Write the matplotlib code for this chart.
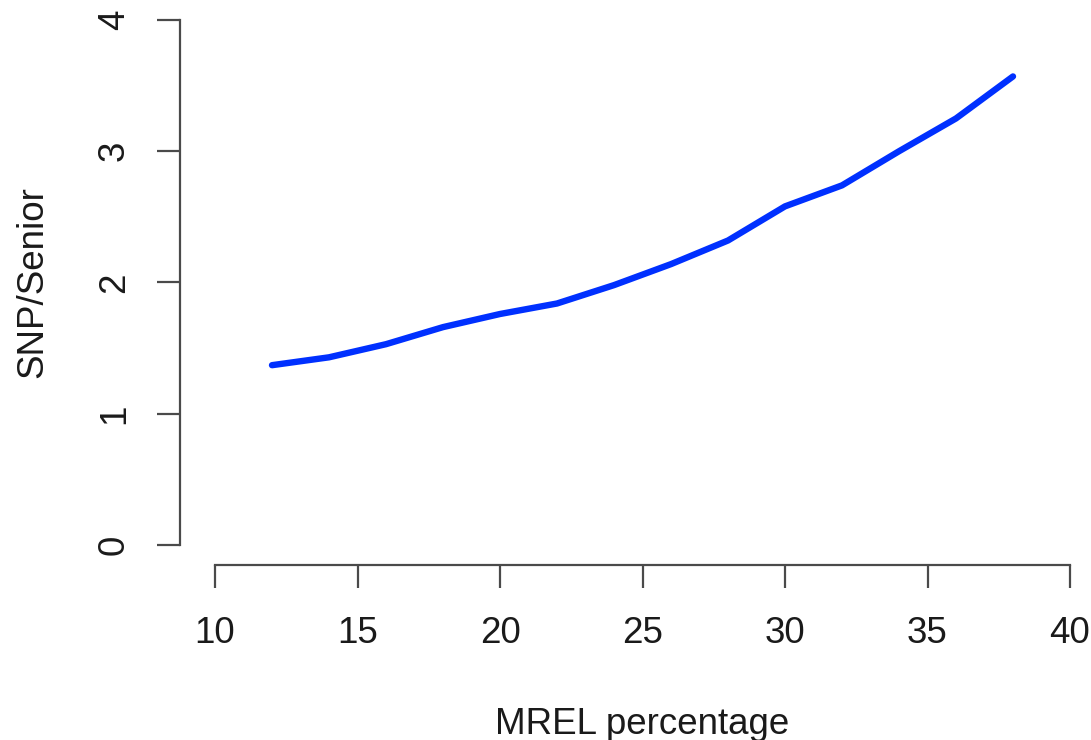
import matplotlib
matplotlib.use("Agg")
import matplotlib.pyplot as plt

# MREL percentage vs. SNP/Senior ratio
mrel_pct = [12, 14, 16, 18, 20, 22, 24, 26, 28, 30, 32, 34, 36, 38]
snp_senior = [1.37, 1.43, 1.53, 1.66, 1.76, 1.84, 1.98, 2.14, 2.32, 2.58, 2.74, 3.00, 3.25, 3.57]

x_ticks = [10, 15, 20, 25, 30, 35, 40]
y_ticks = [0, 1, 2, 3, 4]

plt.rcParams['font.family'] = ['Liberation Sans', 'DejaVu Sans']

W, H, DPI = 1091, 740, 100
fig = plt.figure(figsize=(W / DPI, H / DPI), dpi=DPI)

# plot region in pixels
xlim = (9.5, 40.5)
ylim = (-0.1, 4.1)
px_per_x = 855 / 30.0
px_per_y = 525 / 4.0
left_px = 215 - (10 - xlim[0]) * px_per_x
right_px = 1070 + (xlim[1] - 40) * px_per_x
top_px = 20 - (ylim[1] - 4) * px_per_y
bottom_px = 545 + (0 - ylim[0]) * px_per_y

ax = fig.add_axes([left_px / W, 1 - bottom_px / H,
                   (right_px - left_px) / W, (bottom_px - top_px) / H])

ax.plot(mrel_pct, snp_senior, color='#0030ff', linewidth=4.6,
        solid_capstyle='round', solid_joinstyle='round')

ax.set_xlim(*xlim)
ax.set_ylim(*ylim)
ax.set_xticks(x_ticks)
ax.set_yticks(y_ticks)
ax.set_xticklabels([str(v) for v in x_ticks])
ax.set_yticklabels([str(v) for v in y_ticks])

axis_col = '#4a4a4a'
text_col = '#1a1a1a'
for side in ('top', 'right'):
    ax.spines[side].set_visible(False)
ax.spines['left'].set_bounds(0, 4)
ax.spines['bottom'].set_bounds(10, 40)
ax.spines['left'].set_position(('outward', (left_px - 180) * 72 / DPI))
ax.spines['bottom'].set_position(('outward', (565 - bottom_px) * 72 / DPI))
for side in ('left', 'bottom'):
    ax.spines[side].set_color(axis_col)
    ax.spines[side].set_linewidth(1.6)

ax.tick_params(axis='both', direction='out', length=16.5, width=1.6,
               color=axis_col, labelcolor=text_col, labelsize=26.5)
ax.tick_params(axis='x', pad=20)
ax.tick_params(axis='y', pad=18, labelrotation=90)
for lbl in ax.get_yticklabels():
    lbl.set_verticalalignment('center')

ax.set_xlabel('MREL percentage', fontsize=26.5, color=text_col, labelpad=40.5)
ax.set_ylabel('SNP/Senior', fontsize=26.5, color=text_col, labelpad=34)

fig.savefig('out.png', dpi=DPI, facecolor='white')
